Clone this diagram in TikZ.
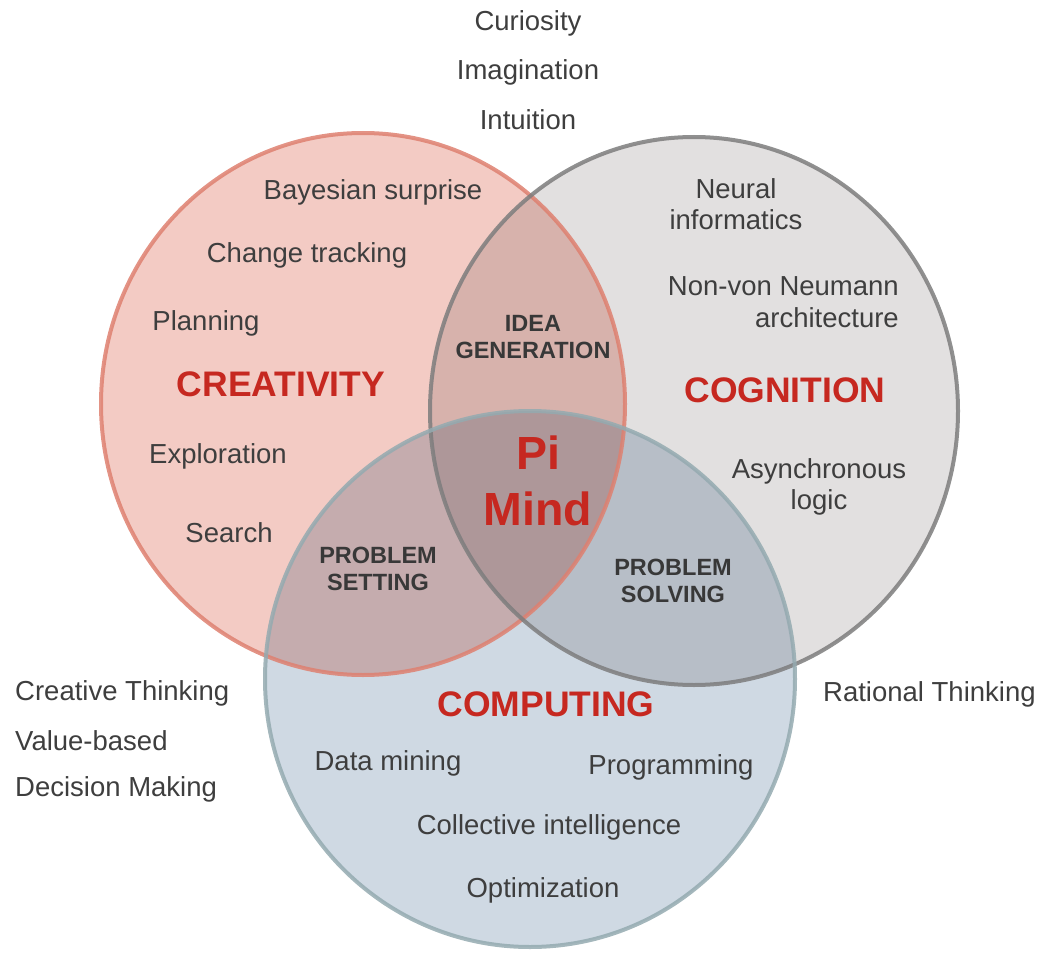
\documentclass[tikz,border=0pt]{standalone}
\usepackage{fontspec}
\setmainfont{Liberation Sans}
\definecolor{crefill}{RGB}{243,203,196}
\definecolor{cogfill}{RGB}{226,224,224}
\definecolor{comfill}{RGB}{207,217,227}
\definecolor{credraw}{RGB}{222,128,112}
\definecolor{cogdraw}{RGB}{125,125,125}
\definecolor{comdraw}{RGB}{148,170,176}
\definecolor{labred}{RGB}{198,40,32}
\definecolor{txt}{RGB}{62,62,62}
\tikzset{
  item/.style={text=txt, font=\fontsize{27.5}{31.5}\selectfont, align=center, inner sep=0pt},
  big/.style={text=labred, font=\bfseries\fontsize{35.5}{40}\selectfont, inner sep=0pt},
  zone/.style={text=txt!90!black, font=\bfseries\fontsize{23.5}{27}\selectfont, align=center, inner sep=0pt},
  ring/.style={line width=4pt, draw opacity=0.85}
}
\begin{document}
\begin{tikzpicture}[x=1pt,y=-1pt]
\useasboundingbox (0,0) rectangle (1045,955);
\coordinate (ccre) at (363,404);
\coordinate (ccog) at (694,411);
\coordinate (ccom) at (530,679);
\begin{scope}[blend mode=multiply]
  \fill[crefill] (ccre) ellipse[x radius=262pt, y radius=271pt];
  \fill[cogfill] (ccog) ellipse[x radius=264pt, y radius=274pt];
  \fill[comfill] (ccom) ellipse[x radius=265pt, y radius=268pt];
\end{scope}
\draw[ring, credraw] (ccre) ellipse[x radius=262pt, y radius=271pt];
\draw[ring, cogdraw] (ccog) ellipse[x radius=264pt, y radius=274pt];
\draw[ring, comdraw] (ccom) ellipse[x radius=265pt, y radius=268pt];

% top
\node[item] (cur) at (528,23) {Curiosity};
\node[item] (ima) at (528,72) {Imagination};
\node[item] (int) at (528,120) {Intuition};

% creativity
\node[item] (bay) at (373,192) {Bayesian surprise};
\node[item] (chg) at (307,255) {Change tracking};
\node[item] (pla) at (206,323) {Planning};
\node[big] (cre) at (281,384) {CREATIVITY};
\node[item] (exp) at (218,456) {Exploration};
\node[item] (sea) at (229,533) {Search};

% cognition
\node[item] (neu) at (736,204) {Neural\\informatics};
\node[item, align=right, anchor=east] (nvn) at (899,302) {Non-von Neumann\\architecture};
\node[big] (cog) at (785,390) {COGNITION};
\node[item] (asy) at (819,487) {Asynchronous\\logic};

% computing
\node[big] (com) at (546,704) {COMPUTING};
\node[item] (dat) at (388,763) {Data mining};
\node[item] (pro) at (671,767) {Programming};
\node[item] (col) at (549,827) {Collective intelligence};
\node[item] (opt) at (543,890) {Optimization};

% overlaps
\node[zone] (ide) at (533,337) {IDEA\\GENERATION};
\node[zone] (pse) at (378,569) {PROBLEM\\SETTING};
\node[zone] (pso) at (673,581) {PROBLEM\\SOLVING};
\node[text=labred, font=\bfseries\fontsize{46.5}{56}\selectfont, align=center, inner sep=0pt] (pim) at (538,481) {Pi\\Mind};

% outside
\node[item, anchor=west] (ct) at (15,693) {Creative Thinking};
\node[item, anchor=west] (vb) at (15,741) {Value-based};
\node[item, anchor=west] (dm) at (15,789) {Decision Making};
\node[item, anchor=west] (rt) at (823,694) {Rational Thinking};
\end{tikzpicture}
\end{document}
